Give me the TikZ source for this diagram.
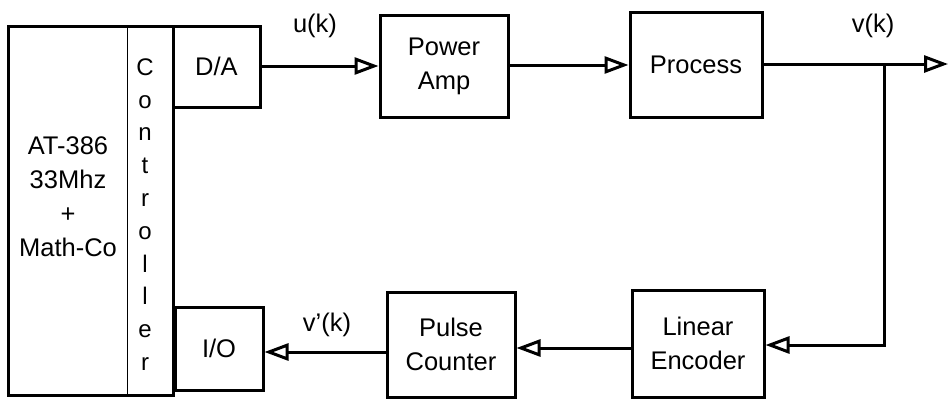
\documentclass[tikz,border=0pt]{standalone}
\usepackage{fontspec}
\setmainfont{Liberation Sans}
\usetikzlibrary{arrows.meta}
\begin{document}
\begin{tikzpicture}[x=1pt,y=-1pt,
  txt/.style={font=\fontsize{25.5}{34}\selectfont, align=center, inner sep=0pt},
  blk/.style={draw, line width=3pt, txt},
  conn/.style={line width=3pt, -{Triangle[open, length=24pt, width=17pt, line width=3pt]}},
  wire/.style={line width=3pt}]
\useasboundingbox (0,0) rectangle (950,399);
% computer block
\node[blk, minimum width=165pt, minimum height=369pt] (pc) at (90.5,210.5) {};
\node[txt] (cpu) at (68,197) {AT-386\\33Mhz\\+\\Math-Co};
\coordinate (divtop) at (127,26);
\coordinate (divbot) at (127,395);
\draw[line width=1pt] (divtop) -- (divbot);
\node[font=\fontsize{24}{32.8}\selectfont, align=center, inner sep=0pt] (ctl) at (145,214.5) {C\\o\\n\\t\\r\\o\\l\\l\\e\\r};
% interface blocks
\node[blk, minimum width=87pt, minimum height=81pt] (da) at (216.5,66.5) {D/A};
\node[blk, minimum width=88pt, minimum height=83pt] (io) at (219,348.5) {I/O};
% forward path
\node[blk, minimum width=128pt, minimum height=102pt] (amp) at (444,66) {Power\\Amp};
\node[blk, minimum width=132pt, minimum height=105pt] (proc) at (696,64.5) {Process};
% feedback path
\node[blk, minimum width=132pt, minimum height=107pt] (enc) at (698,343.5) {Linear\\Encoder};
\node[blk, minimum width=128pt, minimum height=105pt] (cnt) at (451,344.5) {Pulse\\Counter};
% labels
\node[txt] (uk) at (315,26) {u(k)};
\node[txt] (vk) at (873,26) {v(k)};
\node[txt] (vpk) at (327,325) {v'(k)};
% connectors
\coordinate (br) at (884,64);
\coordinate (out) at (948,64);
\coordinate (dn) at (884,345);
\draw[conn] (da.east |- 0,66) -- (amp.west |- 0,66);
\draw[conn] (amp.east |- 0,65) -- (proc.west |- 0,65);
\draw[conn] (proc.east |- br) -- (out);
\draw[wire] (br) -- (dn);
\draw[conn] ([xshift=1.5pt]dn) -- (enc.east |- dn);
\draw[conn] (enc.west |- 0,348) -- (cnt.east |- 0,348);
\draw[conn] (cnt.west |- 0,352) -- (io.east |- 0,352);
\end{tikzpicture}
\end{document}
